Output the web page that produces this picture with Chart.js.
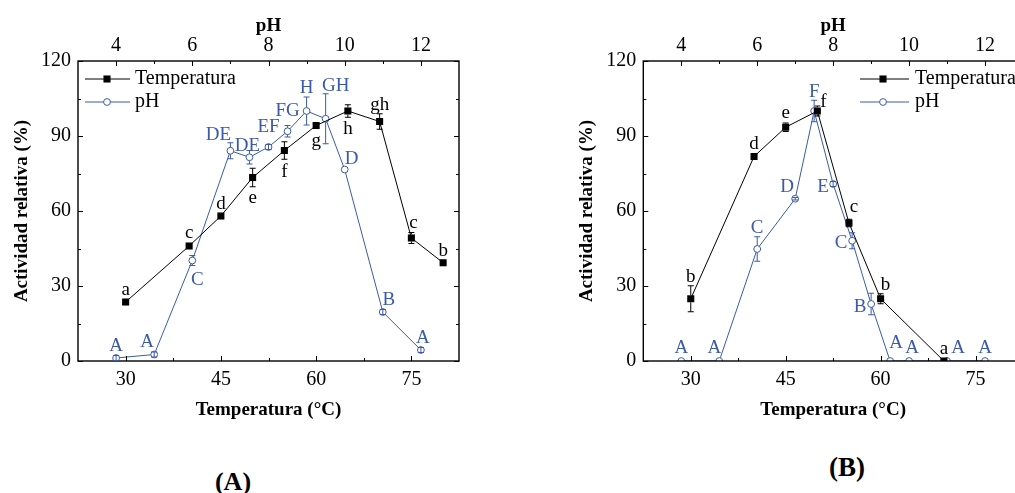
<!DOCTYPE html>
<html>
<head>
<meta charset="utf-8">
<script src="https://cdn.jsdelivr.net/npm/chart.js@4"></script>
<style>
  html, body { margin: 0; padding: 0; background: #fff; }
  body { width: 1015px; height: 493px; overflow: hidden; position: relative; }
  .panel { position: absolute; top: 0; }
  .panel canvas { display: block; }
  .tag { position: absolute; font-family: 'Liberation Serif', 'Times New Roman', serif; font-weight: bold; transform: translate(-50%, -50%); white-space: nowrap; }
</style>
</head>
<body>
<div class="panel" style="left:0"><canvas id="chartA" width="500" height="440"></canvas></div>
<div class="panel" style="left:560px"><canvas id="chartB" width="480" height="440"></canvas></div>
<div class="tag" style="left:233px; top:482px; font-size:26px">(A)</div>
<div class="tag" style="left:847px; top:467px; font-size:27px">(B)</div>
<script>
const FONT = "'Liberation Serif', 'Times New Roman', serif";
const BLUE = '#3c5aa8';

// axis ticks
const tempTicks = [30, 45, 60, 75];
const phTicks = [4, 6, 8, 10, 12];
const actTicks = [0, 30, 60, 90, 120];

// panel A
const tempA = [30, 40, 45, 50, 55, 60, 65, 70, 75, 80];
const actTempA = [23.6, 46, 58, 73.4, 84.2, 94.2, 100, 95.8, 49.2, 39.3];
const errTempA = [0.6, 0.6, 0.6, 3.7, 3.5, 0.6, 2.5, 3.1, 2.2, 0.6];
const letTempA = ['a', 'c', 'd', 'e', 'f', 'g', 'h', 'gh', 'c', 'b'];
const phA = [4, 5, 6, 7, 7.5, 8, 8.5, 9, 9.5, 10, 11, 12];
const actPhA = [1.2, 2.6, 40.2, 84.1, 81.5, 85.6, 91.9, 100, 96.9, 76.6, 19.6, 4.4];
const errPhA = [1, 1, 2, 3.2, 2.7, 1, 2.3, 5.6, 10, 0, 1, 1];
const letPhA = ['A', 'A', 'C', 'DE', 'DE', 'EF', 'FG', 'H', 'GH', 'D', 'B', 'A'];

// panel B
const tempB = [30, 40, 45, 50, 55, 60, 70];
const actTempB = [24.9, 81.8, 93.5, 100, 55.2, 24.9, 0];
const errTempB = [5.2, 0.5, 1.7, 2, 1.5, 2, 0];
const letTempB = ['b', 'd', 'e', 'f', 'c', 'b', 'a'];
const phB = [4, 5, 6, 7, 7.5, 8, 8.5, 9, 9.5, 10, 11, 12];
const actPhB = [0, 0, 44.8, 64.9, 100, 70.8, 48.1, 22.8, 0, 0, 0, 0];
const errPhB = [0, 0, 4.9, 0.5, 4.3, 1, 3.2, 4.3, 0, 0, 0, 0];
const letPhB = ['A', 'A', 'C', 'D', 'F', 'E', 'C', 'B', 'A', 'A', 'A', 'A'];

// where the letters sit relative to their point (dx, baseline dy)
const extras = {
  chartA: {
    errors: [errTempA, errPhA],
    letters: [letTempA, letPhA],
    offsets: [
      [[0, -7], [0, -8], [0, -7], [0, 25], [0, 26], [0, 20], [0, 23], [0, -12], [2, -10], [0, -7]],
      [[0, -7], [-7, -8], [5, 24], [-12, -11], [-2, -6], [0, -15], [0, -15], [0, -18], [10, -28], [7, -6], [6, -7], [2, -7]]
    ],
    legend: { x0: 85, x1: 130, xm: 107, xt: 135, ys: [79, 102] }
  },
  chartB: {
    errors: [errTempB, errPhB],
    letters: [letTempB, letPhB],
    offsets: [
      [[0, -17], [0, -8], [0, -9], [6, -4], [5, -11], [5, -9], [0, -7]],
      [[0, -8], [-5, -8], [0, -16], [-8, -7], [0, -14], [-10, 8], [-11, 7], [-11, 8], [6, -13], [3, -8], [11, -8], [0, -8]]
    ],
    legend: { x0: 300, x1: 349, xm: 323, xt: 355, ys: [79, 102] }
  }
};

function minorOf(ticks, lo, hi) {
  const out = [];
  const step = ticks[1] - ticks[0];
  const first = ticks[0] - step / 2, last = ticks[ticks.length - 1] + step / 2;
  if (first > lo) out.push(first);
  for (let i = 0; i < ticks.length - 1; i++) out.push((ticks[i] + ticks[i + 1]) / 2);
  if (last < hi) out.push(last);
  return out;
}

function drawMarker(ctx, ds, x, y) {
  ctx.beginPath();
  if (ds.pointStyle === 'rect') {
    const s = ds.pointRadius * Math.SQRT1_2;
    ctx.fillStyle = ds.pointBackgroundColor;
    ctx.fillRect(x - s, y - s, 2 * s, 2 * s);
  } else {
    ctx.arc(x, y, ds.pointRadius, 0, Math.PI * 2);
    ctx.fillStyle = ds.pointBackgroundColor;
    ctx.fill();
    ctx.lineWidth = ds.pointBorderWidth;
    ctx.strokeStyle = ds.pointBorderColor;
    ctx.stroke();
  }
}

const deco = {
  id: 'deco',
  afterDatasetsDraw(chart) {
    const ex = extras[chart.canvas.id];
    const { ctx, chartArea: a, scales } = chart;
    ctx.save();

    // frame with inward ticks
    ctx.strokeStyle = '#000';
    ctx.lineWidth = 1;
    const mark = (scale, vals, len) => {
      vals.forEach(v => {
        const p = Math.round(scale.getPixelForValue(v)) + 0.5;
        ctx.beginPath();
        if (scale.isHorizontal()) {
          if (scale.position === 'top') { ctx.moveTo(p, a.top); ctx.lineTo(p, a.top + len); }
          else { ctx.moveTo(p, a.bottom); ctx.lineTo(p, a.bottom - len); }
        } else {
          ctx.moveTo(a.left, p); ctx.lineTo(a.left + len, p);
          ctx.moveTo(a.right, p); ctx.lineTo(a.right - len, p);
        }
        ctx.stroke();
      });
    };
    [scales.x, scales.x2, scales.y].forEach(s => {
      const major = s.ticks.map(t => t.value);
      mark(s, major, 5);
      mark(s, minorOf(major, s.min, s.max), 3);
    });
    ctx.lineWidth = 1.4;
    ctx.strokeRect(a.left, a.top, a.right - a.left, a.bottom - a.top);

    chart.data.datasets.forEach((ds, i) => {
      const meta = chart.getDatasetMeta(i);
      const ys = chart.scales[ds.yAxisID];
      const isRect = ds.pointStyle === 'rect';
      const r = isRect ? ds.pointRadius * Math.SQRT1_2 : ds.pointRadius;
      // error bars
      ctx.strokeStyle = ds.borderColor;
      ctx.lineWidth = 1;
      meta.data.forEach((pt, j) => {
        const e = ex.errors[i][j];
        if (!e) return;
        const yv = ds.data[j].y;
        const top = ys.getPixelForValue(yv + e), bot = ys.getPixelForValue(yv - e);
        const x = pt.x, y = pt.y;
        const ePx = y - top;
        ctx.beginPath();
        if (ePx > r) {
          ctx.moveTo(x, top); ctx.lineTo(x, y - r);
          ctx.moveTo(x, y + r); ctx.lineTo(x, bot);
        } else if (isRect) {
          return;
        } else {
          ctx.moveTo(x, top); ctx.lineTo(x, bot);
        }
        ctx.moveTo(x - 3, top); ctx.lineTo(x + 3, top);
        ctx.moveTo(x - 3, bot); ctx.lineTo(x + 3, bot);
        ctx.stroke();
      });
      // letters
      ctx.font = '19px ' + FONT;
      ctx.textAlign = 'center';
      ctx.textBaseline = 'alphabetic';
      ctx.fillStyle = ds.borderColor;
      meta.data.forEach((pt, j) => {
        const off = ex.offsets[i][j];
        ctx.fillText(ex.letters[i][j], pt.x + off[0], pt.y + off[1]);
      });
      // legend entry
      const lg = ex.legend, ly = lg.ys[i];
      ctx.beginPath();
      ctx.strokeStyle = ds.borderColor;
      ctx.lineWidth = 1;
      ctx.moveTo(lg.x0, ly); ctx.lineTo(lg.x1, ly);
      ctx.stroke();
      drawMarker(ctx, ds, lg.xm, ly);
      ctx.font = '20px ' + FONT;
      ctx.textAlign = 'left';
      ctx.textBaseline = 'middle';
      ctx.fillStyle = '#000';
      ctx.fillText(ds.label, lg.xt, ly);
    });
    ctx.restore();
  }
};

function tickFont() { return { family: FONT, size: 20 }; }
function titleFont() { return { family: FONT, size: 19, weight: 'bold' }; }

function makeChart(id, temps, tAct, phs, pAct, padRight, yWidth, yTitlePad) {
  return new Chart(document.getElementById(id), {
    type: 'line',
    data: {
      datasets: [
        {
          label: 'Temperatura',
          data: temps.map((t, i) => ({ x: t, y: tAct[i] })),
          xAxisID: 'x', yAxisID: 'y',
          borderColor: '#000', backgroundColor: '#000', borderWidth: 1,
          pointStyle: 'rect', pointRadius: 5, pointBorderWidth: 0,
          pointBackgroundColor: '#000', pointBorderColor: '#000',
          tension: 0, fill: false
        },
        {
          label: 'pH',
          data: phs.map((p, i) => ({ x: p, y: pAct[i] })),
          xAxisID: 'x2', yAxisID: 'y',
          borderColor: BLUE, backgroundColor: BLUE, borderWidth: 1,
          pointStyle: 'circle', pointRadius: 3.4, pointBorderWidth: 1,
          pointBackgroundColor: '#fff', pointBorderColor: BLUE,
          tension: 0, fill: false
        }
      ]
    },
    options: {
      responsive: false,
      animation: false,
      devicePixelRatio: 1,
      layout: { padding: { left: 0, top: 0, right: padRight, bottom: 0 } },
      plugins: { legend: { display: false }, tooltip: { enabled: false } },
      scales: {
        x: {
          type: 'linear', position: 'bottom', min: 22.5, max: 82.5,
          afterBuildTicks: s => { s.ticks = tempTicks.map(v => ({ value: v })); },
          afterFit: s => { s.height = 79; },
          grid: { display: false, drawTicks: false }, border: { display: false },
          ticks: { color: '#000', font: tickFont(), padding: 7, autoSkip: false, maxRotation: 0 },
          title: { display: true, text: 'Temperatura (°C)', color: '#000', font: titleFont(), padding: { top: 0, bottom: 18.6 } }
        },
        x2: {
          type: 'linear', position: 'top', min: 3, max: 13,
          afterBuildTicks: s => { s.ticks = phTicks.map(v => ({ value: v })); },
          afterFit: s => { s.height = 61; },
          grid: { display: false, drawTicks: false }, border: { display: false },
          ticks: { color: '#000', font: tickFont(), padding: 3, autoSkip: false, maxRotation: 0 },
          title: { display: true, text: 'pH', color: '#000', font: titleFont(), padding: { top: 14.6, bottom: 0 } }
        },
        y: {
          type: 'linear', position: 'left', min: 0, max: 120,
          afterBuildTicks: s => { s.ticks = actTicks.map(v => ({ value: v })); },
          afterFit: s => { s.width = yWidth; },
          grid: { display: false, drawTicks: false }, border: { display: false },
          ticks: { color: '#000', font: tickFont(), padding: 7 },
          title: { display: true, text: 'Actividad relativa (%)', color: '#000', font: titleFont(), padding: { top: yTitlePad, bottom: 0 } }
        }
      }
    },
    plugins: [deco]
  });
}

makeChart('chartA', tempA, actTempA, phA, actPhA, 41, 78, 10.6);
makeChart('chartB', tempB, actTempB, phB, actPhB, 17, 83.3, 15.3);
</script>
</body>
</html>
